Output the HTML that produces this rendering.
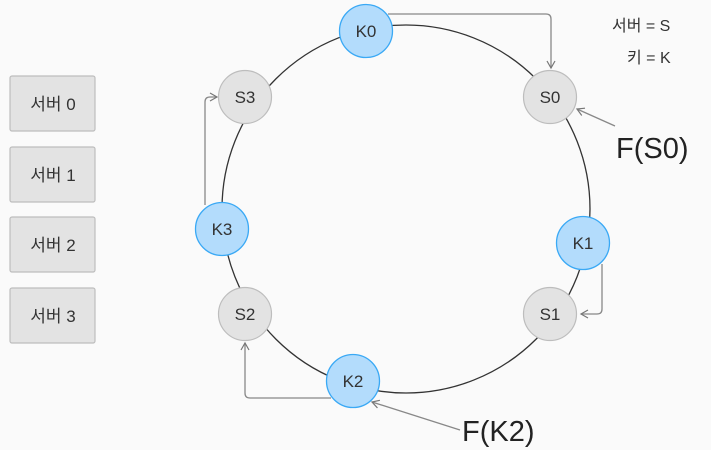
<!DOCTYPE html>
<html><head><meta charset="utf-8"><style>
body{margin:0;background:#fafafa;}
svg{display:block;font-family:"Liberation Sans","Noto Sans CJK KR",sans-serif;}
</style></head><body>
<svg width="711" height="450" viewBox="0 0 711 450">
<defs><marker id="a" markerWidth="10" markerHeight="10" refX="8" refY="5" orient="auto" markerUnits="userSpaceOnUse"><path d="M1,1 L8,5 L1,9" fill="none" stroke="#777" stroke-width="1.2"/></marker></defs>
<g fill="#e3e3e3" stroke="#bdbdbd" stroke-width="1.2">
<rect x="10" y="76" width="85" height="55" rx="2"/>
<rect x="10" y="147" width="85" height="55" rx="2"/>
<rect x="10" y="217" width="85" height="55" rx="2"/>
<rect x="10" y="288" width="85" height="55" rx="2"/>
</g>
<g font-size="17" fill="#333" text-anchor="middle">
<text x="53" y="110">서버 0</text><text x="53" y="181">서버 1</text>
<text x="53" y="251">서버 2</text><text x="53" y="322">서버 3</text>
</g>
<circle cx="406" cy="209" r="184" fill="none" stroke="#333" stroke-width="1.3"/>
<g fill="none" stroke="#888" stroke-width="1.3">
<path d="M388,14 H546 Q551,14 551,19 V68" marker-end="url(#a)"/>
<path d="M602,264 V309 Q602,314 597,314 H581" marker-end="url(#a)"/>
<path d="M205,205 V102 Q205,97 210,97 H217" marker-end="url(#a)"/>
<path d="M331,398 H250 Q245,398 245,393 V343" marker-end="url(#a)"/>
<path d="M615,126 L577,109" marker-end="url(#a)"/>
<path d="M460,430 L372,402" marker-end="url(#a)"/>
</g>
<g fill="#e3e3e3" stroke="#bdbdbd" stroke-width="1.2">
<circle cx="245" cy="97" r="26.5"/><circle cx="245" cy="314" r="26.5"/>
<circle cx="550" cy="97" r="26.5"/><circle cx="550" cy="314" r="26.5"/>
</g>
<g fill="#b3dcfc" stroke="#3aa9f5" stroke-width="1.3">
<circle cx="366" cy="31" r="26.5"/><circle cx="222" cy="229" r="26.5"/>
<circle cx="353" cy="381" r="26.5"/><circle cx="583" cy="243" r="26.5"/>
</g>
<g font-size="17" fill="#333" text-anchor="middle">
<text x="245" y="103">S3</text><text x="245" y="320">S2</text>
<text x="550" y="103">S0</text><text x="550" y="320">S1</text>
<text x="366" y="37">K0</text><text x="222" y="235">K3</text>
<text x="353" y="387">K2</text><text x="583" y="249">K1</text>
</g>
<g font-size="16" fill="#333">
<text x="612" y="31">서버 = S</text><text x="627" y="63">키 = K</text>
</g>
<g font-size="29" fill="#222">
<text x="616" y="158">F(S0)</text><text x="462" y="441">F(K2)</text>
</g>
</svg>
</body></html>
